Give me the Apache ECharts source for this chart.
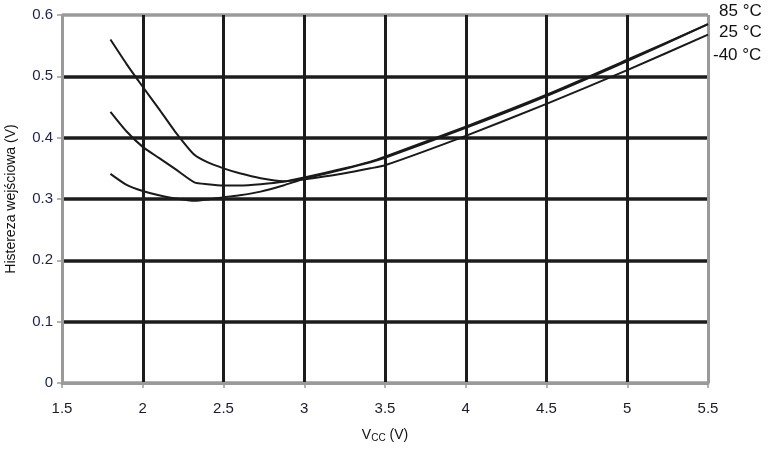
<!DOCTYPE html>
<html>
<head>
<meta charset="utf-8">
<title>Histereza wejściowa</title>
<script src="https://cdn.jsdelivr.net/npm/echarts@6/dist/echarts.min.js"></script>
<style>
  html, body { margin: 0; padding: 0; background: #fff; }
  #chart { width: 770px; height: 451px; }
</style>
</head>
<body>
<div id="chart"></div>
<script>
// napięcie zasilania (V)
var vcc = [1.8, 1.9, 2.0, 2.1, 2.2, 2.32, 2.4, 2.5, 2.6, 2.73, 2.87, 3.0, 3.25, 3.41, 3.5, 4.0, 4.5, 5.0, 5.5];
// histereza (V) dla temperatur
var hystM40 = [0.560, 0.520, 0.483, 0.447, 0.410, 0.372, 0.360, 0.350, 0.342, 0.334, 0.329, 0.332, 0.342, 0.350, 0.355, 0.403, 0.455, 0.510, 0.568];
var hyst25 = [0.442, 0.410, 0.385, 0.367, 0.349, 0.327, 0.324, 0.322, 0.322, 0.324, 0.328, 0.335, 0.350, 0.361, 0.369, 0.418, 0.470, 0.527, 0.585];
var hyst85 = [0.341, 0.323, 0.313, 0.306, 0.301, 0.297, 0.299, 0.303, 0.306, 0.312, 0.322, 0.333, 0.349, 0.360, 0.367, 0.416, 0.468, 0.525, 0.585];
var tempLabels = ['85 °C', '25 °C', '-40 °C'];
var xRange = [1.5, 5.5, 0.5];
var yRange = [0, 0.6, 0.1];

function pairs(xs, ys) {
    var out = [];
    for (var i = 0; i < xs.length; i++) out.push([xs[i], ys[i]]);
    return out;
}

var gridCol = '#1c1c1c';
var borderCol = '#9a9a9a';
var font = '"Liberation Sans", Arial, sans-serif';

var myChart = echarts.init(document.getElementById('chart'));
var lineSeries = function (name, ys) {
    return {
        type: 'line',
        name: name,
        data: pairs(vcc, ys),
        symbol: 'none',
        smooth: 0.2,
        lineStyle: { color: '#1a1a1a', width: 2 },
        z: 3
    };
};

var option = {
    animation: false,
    grid: { left: 62, right: 62, top: 15, bottom: 68, outerBoundsMode: 'none', containLabel: false },
    xAxis: {
        type: 'value',
        min: xRange[0],
        max: xRange[1],
        interval: xRange[2],
        name: '{v|V}{s|CC}{v| (V)}',
        nameLocation: 'middle',
        nameGap: 44,
        nameTextStyle: {
            rich: {
                v: { fontSize: 14, fontFamily: font, color: '#111' },
                s: { fontSize: 10, fontFamily: font, color: '#111', padding: [6, 0, 0, 0] }
            }
        },
        axisLine: { lineStyle: { color: borderCol, width: 3 } },
        axisTick: { show: true, length: 5, lineStyle: { color: borderCol, width: 1.5 } },
        axisLabel: {
            margin: 18,
            fontSize: 15,
            fontFamily: '"Liberation Sans Narrow", "Liberation Sans", Arial, sans-serif',
            color: '#1b1b2b'
        },
        splitLine: {
            show: true,
            lineStyle: {
                width: 3,
                color: [borderCol, gridCol, gridCol, gridCol, gridCol, gridCol, gridCol, gridCol, borderCol]
            }
        }
    },
    yAxis: {
        type: 'value',
        min: yRange[0],
        max: yRange[1],
        interval: yRange[2],
        name: 'Histereza wejściowa (V)',
        nameLocation: 'middle',
        nameGap: 44,
        nameTextStyle: { fontSize: 14, fontFamily: font, color: '#111' },
        axisLine: { show: true, lineStyle: { color: borderCol, width: 2 } },
        axisTick: { show: true, length: 5, lineStyle: { color: borderCol, width: 1.5 } },
        axisLabel: { margin: 9, fontSize: 15, fontFamily: font, color: '#1a2350' },
        splitLine: {
            show: true,
            lineStyle: {
                width: 3.5,
                color: [borderCol, gridCol, gridCol, gridCol, gridCol, gridCol, borderCol]
            }
        }
    },
    graphic: [
        { type: 'text', left: 719, top: 3, style: { text: tempLabels[0], font: '17px ' + font, fill: '#111' } },
        { type: 'text', left: 719, top: 24, style: { text: tempLabels[1], font: '17px ' + font, fill: '#111' } },
        { type: 'text', left: 713, top: 47, style: { text: tempLabels[2], font: '17px ' + font, fill: '#111' } }
    ],
    series: [
        lineSeries(tempLabels[0], hyst85),
        lineSeries(tempLabels[1], hyst25),
        lineSeries(tempLabels[2], hystM40)
    ]
};

myChart.setOption(option);
window.addEventListener('resize', function () {
    myChart.resize();
});
</script>
</body>
</html>
